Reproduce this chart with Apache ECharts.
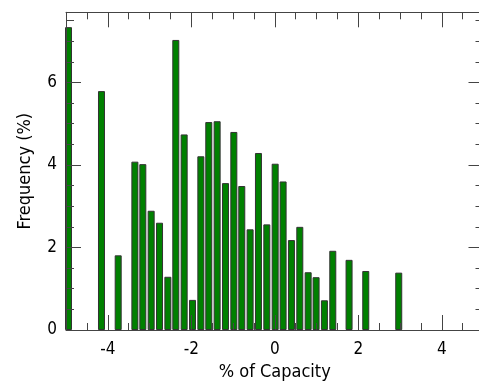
<!DOCTYPE html>
<html>
<head>
<meta charset="utf-8">
<script src="https://cdn.jsdelivr.net/npm/echarts@6/dist/echarts.min.js"></script>
<style>
  html, body { margin: 0; padding: 0; background: #fff; }
  #chart { width: 479px; height: 381px; }
</style>
</head>
<body>
<div id="chart"></div>
<script>
// bin centres (% of capacity) and bar heights (frequency %)
const binCenters = [-4.94, -4.15, -3.75, -3.35, -3.16, -2.96, -2.76, -2.56, -2.37, -2.17,
  -1.97, -1.77, -1.58, -1.38, -1.18, -0.98, -0.79, -0.59, -0.39, -0.19,
  0.01, 0.20, 0.40, 0.60, 0.80, 0.99, 1.19, 1.39, 1.78, 2.18, 2.97];
const frequency = [7.34, 5.79, 1.81, 4.08, 4.02, 2.89, 2.60, 1.29, 7.03, 4.74,
  0.73, 4.21, 5.04, 5.06, 3.56, 4.80, 3.49, 2.44, 4.29, 2.56,
  4.03, 3.60, 2.18, 2.50, 1.40, 1.28, 0.72, 1.92, 1.70, 1.43, 1.39];

const xMajorTicks = [-4, -2, 0, 2, 4];
const xMinorTicks = [-4.5, -3.5, -3, -2.5, -1.5, -1, -0.5, 0.5, 1, 1.5, 2.5, 3, 3.5, 4.5];
const yMajorTicks = [0, 2, 4, 6];
const yMinorTicks = [0.5, 1, 1.5, 2.5, 3, 3.5, 4.5, 5, 5.5, 6.5, 7, 7.5];

const FONT = "'DejaVu Sans Condensed', 'Liberation Sans Narrow', 'DejaVu Sans', sans-serif";
const LINE = "#444";

const xRange = { min: -5, max: 5 };
const yRange = { min: 0, max: 7.7 };

// one axis for long (major) ticks, one for short (minor) ticks
const makeAxis = (range, position, ticks, len, withLine, withLabels) => ({
  type: "value",
  position: position,
  min: range.min,
  max: range.max,
  z: 3,
  splitLine: { show: false },
  axisLine: { show: withLine, onZero: false, lineStyle: { color: LINE, width: 1 } },
  axisTick: {
    show: true,
    inside: true,
    length: len,
    customValues: ticks,
    lineStyle: { color: LINE, width: 1 },
  },
  axisLabel: {
    show: withLabels,
    customValues: ticks,
    margin: 11,
    color: "#000",
    fontFamily: FONT,
    fontSize: 17,
  },
});

const xBottom = makeAxis(xRange, "bottom", xMajorTicks, 15, true, true);
xBottom.name = "% of Capacity";
xBottom.nameLocation = "middle";
xBottom.nameGap = 32;
xBottom.nameTextStyle = { color: "#000", fontFamily: FONT, fontSize: 18 };

const yLeft = makeAxis(yRange, "left", yMajorTicks, 15, true, true);
yLeft.axisLabel.margin = 9;
yLeft.name = "Frequency (%)";
yLeft.nameLocation = "middle";
yLeft.nameGap = 32;
yLeft.nameTextStyle = { color: "#000", fontFamily: FONT, fontSize: 18 };

const chart = echarts.init(document.getElementById("chart"), null, { renderer: "canvas" });
chart.setOption({
  animation: false,
  backgroundColor: "#fff",
  grid: {
    left: 66, top: 12.3, width: 417.5, height: 317.7,
    containLabel: false,
    outerBoundsMode: "none",
  },
  xAxis: [
    xBottom,
    makeAxis(xRange, "bottom", xMinorTicks, 7, false, false),
    makeAxis(xRange, "top", xMajorTicks, 15, true, false),
    makeAxis(xRange, "top", xMinorTicks, 7, false, false),
  ],
  yAxis: [
    yLeft,
    makeAxis(yRange, "left", yMinorTicks, 8, false, false),
    makeAxis(yRange, "right", yMajorTicks, 15, true, false),
    makeAxis(yRange, "right", yMinorTicks, 8, false, false),
  ],
  series: [
    {
      type: "bar",
      xAxisIndex: 0,
      yAxisIndex: 0,
      barWidth: 7,
      data: binCenters.map((x, i) => [x, frequency[i]]),
      itemStyle: {
        color: "#008000",
        borderColor: "#333",
        borderWidth: 1,
      },
    },
  ],
});
</script>
</body>
</html>
